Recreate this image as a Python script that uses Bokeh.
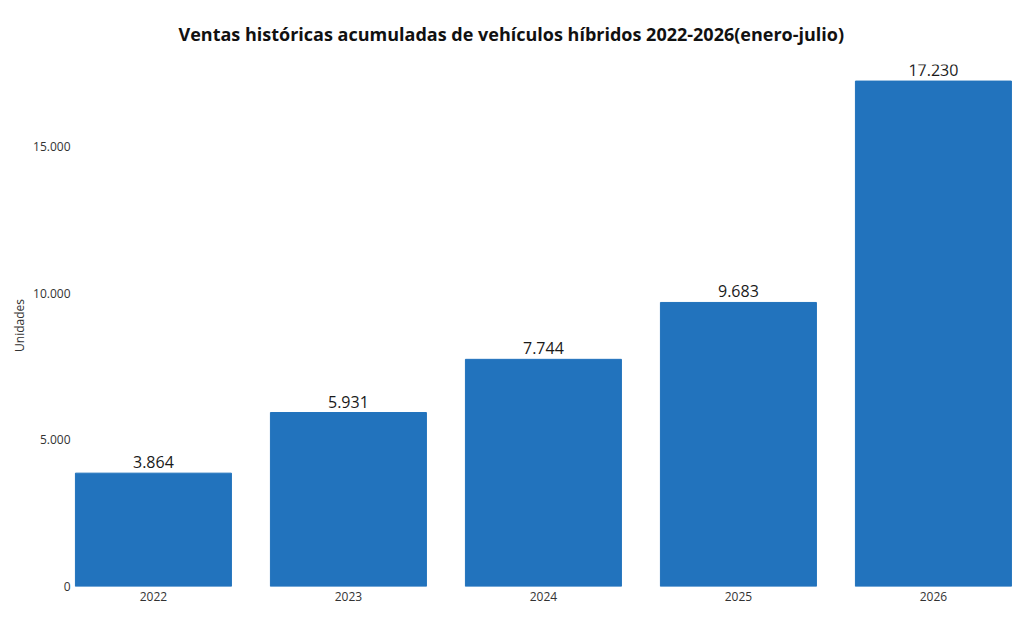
from bokeh.core.properties import value
from bokeh.embed import file_html
from bokeh.models import ColumnDataSource, FixedTicker, LabelSet, Range1d
from bokeh.plotting import figure
from bokeh.resources import INLINE

# datos
years = ["2022", "2023", "2024", "2025", "2026"]
units = [3864, 5931, 7744, 9683, 17230]
labels = ["3.864", "5.931", "7.744", "9.683", "17.230"]
y_ticks = [0, 5000, 10000, 15000]
y_tick_labels = ["0", "5.000", "10.000", "15.000"]

FONT = "Open Sans"

source = ColumnDataSource(data=dict(x=list(range(len(years))), top=units, label=labels))

p = figure(width=1016, height=612, output_backend="svg", toolbar_location=None,
           tools="", x_range=Range1d(-0.415, 4.426), y_range=Range1d(0, 17795),
           min_border_left=72, min_border_right=0, min_border_top=64,
           min_border_bottom=26, outline_line_color=None,
           title="Ventas históricas acumuladas de vehículos híbridos 2022-2026(enero-julio)")

# titulo centrado en la pagina, no en el area del grafico
p.title.align = "left"
p.title.offset = 106
p.title.standoff = 38
p.title.text_font = FONT
p.title.text_font_size = "18px"
p.title.text_font_style = "bold"
p.title.text_color = "#111111"

# barras
p.vbar(x="x", top="top", width=0.8, source=source, color="#2273BD")

# etiquetas sobre las barras
p.add_layout(LabelSet(x="x", y="top", text="label", source=source,
                      text_align="center", text_baseline="alphabetic", y_offset=5,
                      text_font=value(FONT), text_font_size="16px",
                      text_color="#1a1a1a"))

# ejes
p.xaxis.ticker = FixedTicker(ticks=list(range(len(years))))
p.xaxis.major_label_overrides = {i: y for i, y in enumerate(years)}
p.yaxis.ticker = FixedTicker(ticks=y_ticks)
p.yaxis.major_label_overrides = {t: l for t, l in zip(y_ticks, y_tick_labels)}
p.yaxis.axis_label = "Unidades"

for ax in (p.xaxis, p.yaxis):
    ax.axis_line_color = None
    ax.major_tick_line_color = None
    ax.minor_tick_line_color = None
    ax.major_tick_out = 0
    ax.major_tick_in = 0
    ax.minor_tick_out = 0
    ax.major_label_text_font = FONT
    ax.major_label_text_font_size = "12px"
    ax.major_label_text_color = "#333333"
p.xaxis.major_label_standoff = 5
p.yaxis.major_label_standoff = 2
p.yaxis.axis_label_text_font = FONT
p.yaxis.axis_label_text_font_size = "12px"
p.yaxis.axis_label_text_font_style = "normal"
p.yaxis.axis_label_text_color = "#333333"
p.yaxis.axis_label_standoff = 2

p.xgrid.grid_line_color = None
p.ygrid.grid_line_color = None

open("out.html", "w").write(file_html(p, INLINE))
